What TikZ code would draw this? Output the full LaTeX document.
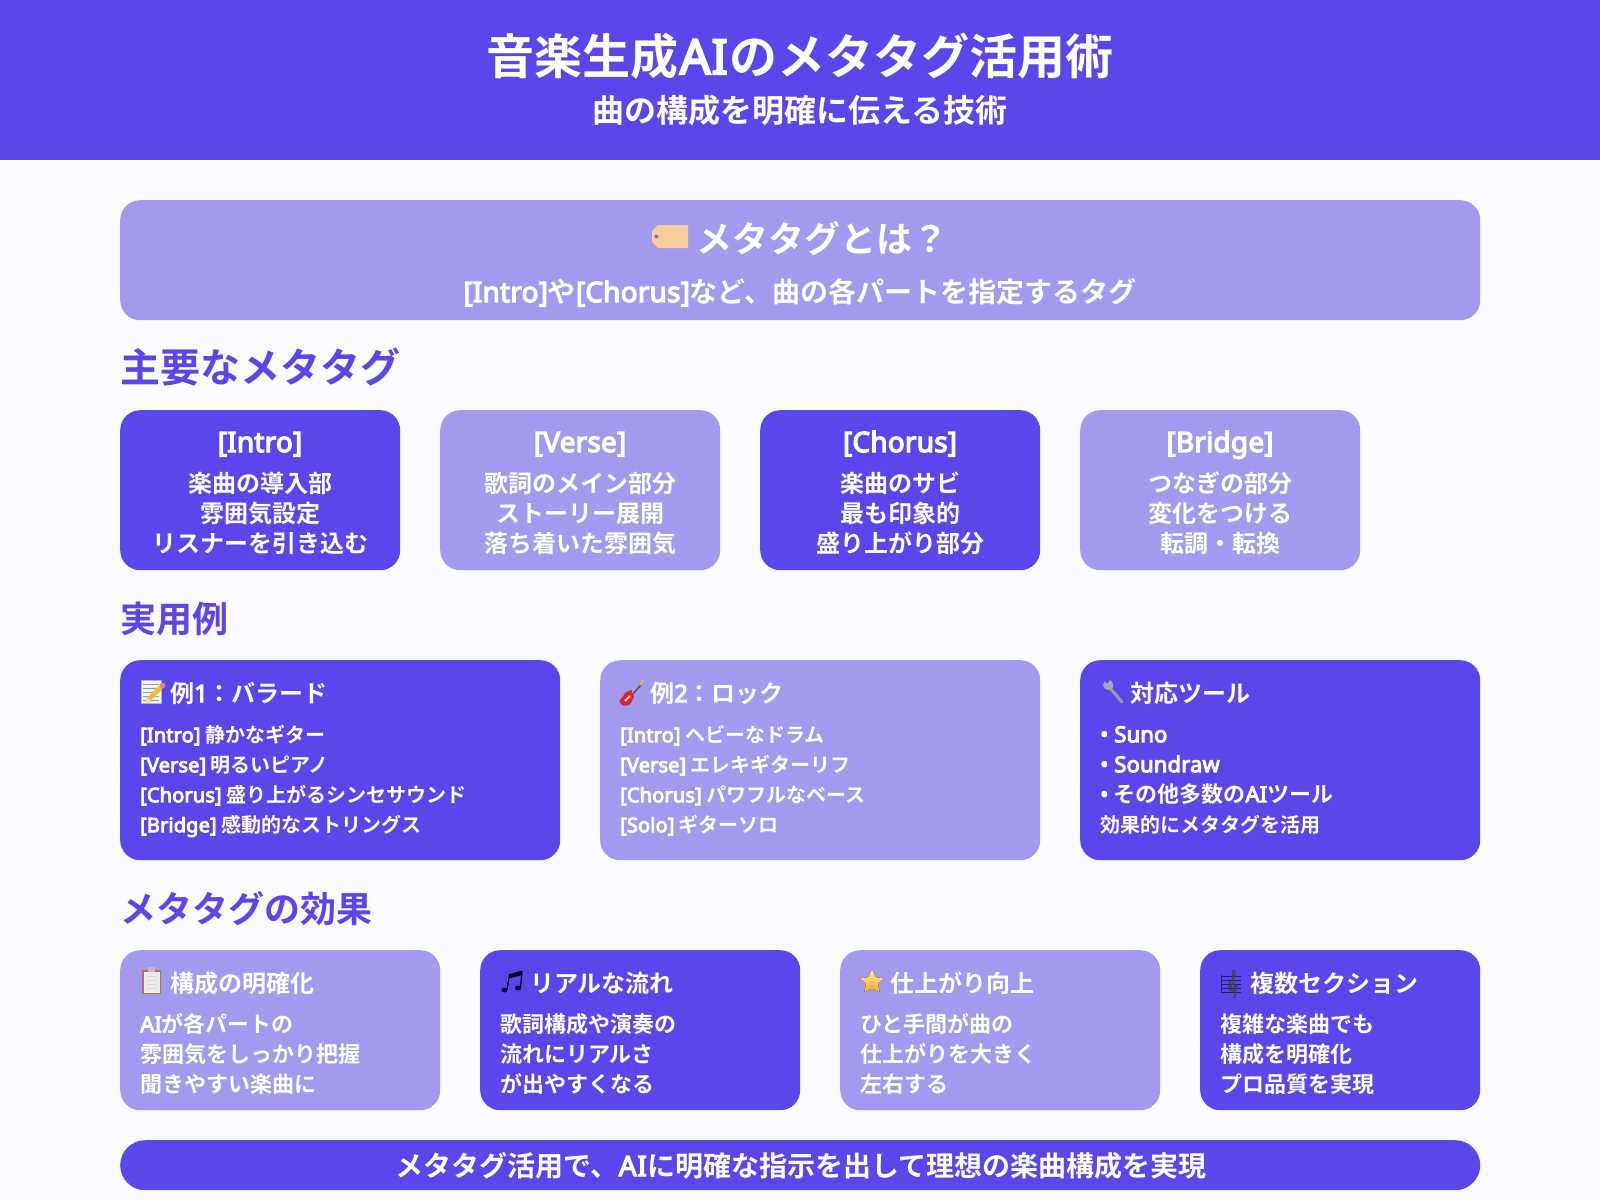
\documentclass[tikz,border=0pt]{standalone}
\usepackage{fontspec}
\setmainfont{Noto Sans CJK JP}[BoldFont={Noto Sans CJK JP Bold}]
\newfontfamily\latfont{Noto Sans}[FakeBold=4.5,LetterSpace=0.7]
\newcommand{\lat}[1]{{\latfont #1}}
\definecolor{dk}{HTML}{5B46EB}
\definecolor{lt}{HTML}{A399EF}
\definecolor{pagebg}{HTML}{FAFAFF}
\tikzset{
  card/.style={anchor=north west,inner sep=0pt,rounded corners=20pt,draw=none},
  dkcard/.style={card,fill=dk},
  ltcard/.style={card,fill=lt},
  txt/.style={inner sep=0pt,text=white},
  head/.style={txt,anchor=base},
  sect/.style={inner sep=0pt,anchor=base west,text=dk},
  lbody/.style={txt,anchor=north west,align=left},
  cbody/.style={txt,anchor=north,align=center},
}
\newcommand{\fs}[2]{\fontsize{#1}{#2}\selectfont\bfseries}
\begin{document}
\begin{tikzpicture}[x=1pt,y=-1pt]
\useasboundingbox (0,0) rectangle (1600,1200);
\fill[pagebg] (0,0) rectangle (1600,1200);
\node[anchor=north west,inner sep=0pt,fill=dk,minimum width=1600pt,minimum height=160pt] (header) at (0,0) {};
\node[head,font=\fs{48}{48}] (title) at (800,74) {音楽生成\lat{\kern1pt A\kern1pt I\kern1.5pt}のメタタグ活用術};
\node[head,font=\fs{32}{32}] (subtitle) at (800,122) {曲の構成を明確に伝える技術};
%
\node[ltcard,minimum width=1360pt,minimum height=120pt] (what) at (120,200) {};
\node[head,font=\fs{36}{36},anchor=base west] (whath) at (696,252) {メタタグとは？};
\node[head,font=\fs{28}{28}] (whatb) at (800,302) {\lat{[Intro]}や\lat{[Chorus]}など、曲の各パートを指定するタグ};
%
\node[sect,font=\fs{40}{40}] (s1) at (120,382) {主要なメタタグ};
\node[sect,font=\fs{36}{36}] (s2) at (120,632) {実用例};
\node[sect,font=\fs{36}{36}] (s3) at (120,922) {メタタグの効果};
%
\node[dkcard,minimum width=280pt,minimum height=160pt] (c1) at (120,410) {};
\node[ltcard,minimum width=280pt,minimum height=160pt] (c2) at (440,410) {};
\node[dkcard,minimum width=280pt,minimum height=160pt] (c3) at (760,410) {};
\node[ltcard,minimum width=280pt,minimum height=160pt] (c4) at (1080,410) {};
\foreach \n/\x/\t in {c1/260/Intro,c2/580/Verse,c3/900/Chorus,c4/1220/Bridge}
  \node[head,font=\fs{28}{28}] (\n h) at (\x,452) {\lat{[\t]}};
\node[cbody,font=\fs{24}{30}] (c1b) at (260,467) {\rule{0pt}{25pt}楽曲の導入部\\雰囲気設定\\リスナーを引き込む};
\node[cbody,font=\fs{24}{30}] (c2b) at (580,467) {\rule{0pt}{25pt}歌詞のメイン部分\\ストーリー展開\\落ち着いた雰囲気};
\node[cbody,font=\fs{24}{30}] (c3b) at (900,467) {\rule{0pt}{25pt}楽曲のサビ\\最も印象的\\盛り上がり部分};
\node[cbody,font=\fs{24}{30}] (c4b) at (1220,467) {\rule{0pt}{25pt}つなぎの部分\\変化をつける\\転調・転換};
%
\node[dkcard,minimum width=440pt,minimum height=200pt] (e1) at (120,660) {};
\node[ltcard,minimum width=440pt,minimum height=200pt] (e2) at (600,660) {};
\node[dkcard,minimum width=400pt,minimum height=200pt] (e3) at (1080,660) {};
\node[head,anchor=base west,font=\fs{24}{24}] (e1h) at (170,702) {例\lat{1}：バラード};
\node[head,anchor=base west,font=\fs{24}{24}] (e2h) at (650,702) {例\lat{2}：ロック};
\node[head,anchor=base west,font=\fs{24}{24}] (e3h) at (1130,702) {対応ツール};
\node[lbody,font=\fs{20}{30}] (e1b) at (140,720) {\rule{0pt}{22pt}\lat{[Intro]} 静かなギター\\\lat{[Verse]} 明るいピアノ\\\lat{[Chorus]} 盛り上がるシンセサウンド\\\lat{[Bridge]} 感動的なストリングス};
\node[lbody,font=\fs{20}{30}] (e2b) at (620,720) {\rule{0pt}{22pt}\lat{[Intro]} ヘビーなドラム\\\lat{[Verse]} エレキギターリフ\\\lat{[Chorus]} パワフルなベース\\\lat{[Solo]} ギターソロ};
\node[lbody,font=\fs{22}{30}] (e3b) at (1100,720) {\rule{0pt}{22pt}\lat{• Suno}\\\lat{• Soundraw}\\\lat{•} その他多数の\lat{AI}ツール\\{\fs{20}{30}効果的にメタタグを活用}};
%
\node[ltcard,minimum width=320pt,minimum height=160pt] (f1) at (120,950) {};
\node[dkcard,minimum width=320pt,minimum height=160pt] (f2) at (480,950) {};
\node[ltcard,minimum width=320pt,minimum height=160pt] (f3) at (840,950) {};
\node[dkcard,minimum width=280pt,minimum height=160pt] (f4) at (1200,950) {};
\node[head,anchor=base west,font=\fs{24}{24}] (f1h) at (170,992) {構成の明確化};
\node[head,anchor=base west,font=\fs{24}{24}] (f2h) at (530,992) {リアルな流れ};
\node[head,anchor=base west,font=\fs{24}{24}] (f3h) at (890,992) {仕上がり向上};
\node[head,anchor=base west,font=\fs{24}{24}] (f4h) at (1250,992) {複数セクション};
\node[lbody,font=\fs{22}{30}] (f1b) at (140,1010) {\rule{0pt}{22pt}\lat{AI}が各パートの\\雰囲気をしっかり把握\\聞きやすい楽曲に};
\node[lbody,font=\fs{22}{30}] (f2b) at (500,1010) {\rule{0pt}{22pt}歌詞構成や演奏の\\流れにリアルさ\\が出やすくなる};
\node[lbody,font=\fs{22}{30}] (f3b) at (860,1010) {\rule{0pt}{22pt}ひと手間が曲の\\仕上がりを大きく\\左右する};
\node[lbody,font=\fs{22}{30}] (f4b) at (1220,1010) {\rule{0pt}{22pt}複雑な楽曲でも\\構成を明確化\\プロ品質を実現};
%
\node[card,fill=dk,rounded corners=25pt,minimum width=1360pt,minimum height=50pt] (foot) at (120,1140) {};
\node[head,font=\fs{28}{28}] (footb) at (801,1176) {メタタグ活用で、\lat{\kern.7pt A\kern.7pt I\kern.7pt}に明確な指示を出して理想の楽曲構成を実現};
% --- icons ---
% tag
\fill[fill={rgb,255:red,246;green,205;blue,155}] (658,225) -- (688,225) -- (688,248) -- (658,248) -- (652,242) -- (652,231) -- cycle;
\fill[fill={rgb,255:red,140;green,115;blue,170}] (656.5,236.5) circle (2pt);
% memo
\fill[black!5,draw=black!30,line width=.6pt] (141,680) rectangle (161,703);
\foreach \yy in {684,688,692,696,700}{\draw[black!40,line width=.6pt] (143,\yy) -- (159,\yy);}
\draw[line width=4.6pt,color={rgb,255:red,240;green,190;blue,60}] (149,699) -- (161,687);
\fill[color={rgb,255:red,235;green,130;blue,130}] (162.5,685.5) circle (2.8pt);
\fill[color={rgb,255:red,245;green,215;blue,160}] (146,703) -- (146.5,696.5) -- (152,702) -- cycle;
% guitar
\draw[line width=1.6pt,black!65] (630,697) -- (641,685);
\draw[line width=2.2pt,color={rgb,255:red,225;green,170;blue,120}] (640,685) -- (643,680);
\fill[color={rgb,255:red,225;green,35;blue,45}] (624,695) .. controls (625,691) and (627,693) .. (629,691) .. controls (631,689) and (633,690) .. (632,693) .. controls (636,696) and (633,698) .. (632,701) .. controls (630,707) and (623,707) .. (620,703) .. controls (618,700) and (622,698) .. (624,695) -- cycle;
\draw[line width=1.8pt,white!85!black] (625,701) -- (630,696);
% wrench
\draw[line width=3.2pt,color={rgb,255:red,150;green,155;blue,170},line cap=round] (1109,687) -- (1122,702);
\fill[color={rgb,255:red,165;green,170;blue,185}] (1105,681) -- (1103,685) .. controls (1104,690) and (1109,691) .. (1112,689) .. controls (1114,686) and (1113,682) .. (1110,680) -- (1107,684) -- cycle;
% clipboard
\fill[color={rgb,255:red,175;green,120;blue,70}] (142,970) rectangle (161,994);
\fill[black!8] (143.5,971.5) rectangle (159.5,992.5);
\foreach \yy in {976,980,984,988}{\draw[black!15,line width=1pt] (146,\yy) -- (157,\yy);}
\fill[black!25] (148,967) rectangle (155,972);
% notes
\fill[black!80!blue] (504.5,990) ellipse (3pt and 2.5pt);
\fill[black!80!blue] (518,988) ellipse (3pt and 2.5pt);
\draw[line width=1.2pt,black!80!blue] (507,990) -- (509.5,974);
\draw[line width=1.2pt,black!80!blue] (520.5,988) -- (522,971);
\fill[black!85!blue] (509.5,974) -- (522,970.5) -- (522,975) -- (509,978.5) -- cycle;
% star
\fill[top color={rgb,255:red,255;green,240;blue,170},bottom color={rgb,255:red,245;green,165;blue,25},rounded corners=1.5pt] (872,969) -- (875.6,977.5) -- (884.5,978) -- (877.7,984) -- (880,993) -- (872,988.2) -- (864,993) -- (866.3,984) -- (859.5,978) -- (868.4,977.5) -- cycle;
% clef
\foreach \yy in {976,980,984,988,992}{\draw[black!55!dk,line width=.5pt] (1221,\yy) -- (1241,\yy);}
\draw[black!55!dk,line width=.9pt] (1221,975) -- (1221,992);
\draw[black!75,line width=1.2pt] (1233,998) .. controls (1236,998) and (1236,994) .. (1234,985) .. controls (1232,977) and (1232,971) .. (1234,970) .. controls (1236,972) and (1235,977) .. (1231,981) .. controls (1227,985) and (1228,991) .. (1233,991) .. controls (1238,991) and (1238,984) .. (1233,984) .. controls (1230,984) and (1230,988) .. (1232,988);
\end{tikzpicture}
\end{document}
